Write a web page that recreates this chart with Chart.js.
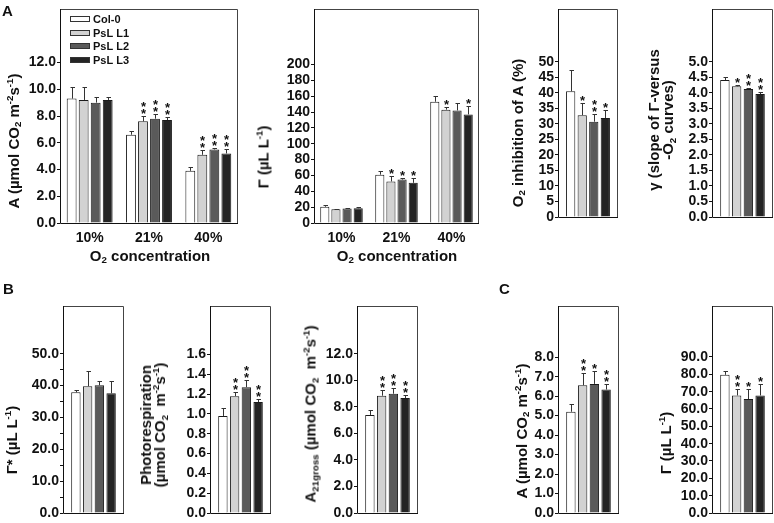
<!DOCTYPE html>
<html>
<head>
<meta charset="utf-8">
<script src="https://cdn.jsdelivr.net/npm/chart.js@4.4.0/dist/chart.umd.min.js"></script>
<style>
  html, body { margin: 0; padding: 0; background: #fff; }
  #fig { position: relative; width: 774px; height: 523px; overflow: hidden;
         font-family: "Liberation Sans", Arial, sans-serif; font-weight: bold; color: #111; }
  #fig canvas { position: absolute; }
  .lbl { position: absolute; white-space: nowrap; font-size: 15px; line-height: 15px; text-align: center; }
  .rot { transform: translate(-50%, -50%) rotate(-90deg); }
  .hz { transform: translate(-50%, -50%); }
  .let { position: absolute; font-size: 15px; line-height: 15px; }
  sub, sup { font-size: 0.65em; line-height: 0; }
  sub { vertical-align: -0.3em; }
  sup { vertical-align: 0.6em; }
</style>
</head>
<body>
<div id="fig"></div>
<script>
const lines = ["Col-0", "PsL L1", "PsL L2", "PsL L3"];
const o2Levels = ["10%", "21%", "40%"];
const fills = ["#ffffff", "#d2d2d2", "#5a5a5a", "#242424"];

// A at 10/21/40 % O2 (one row per line)
const aO2 = [[9.3, 6.6, 3.9], [9.2, 7.6, 5.1], [9.0, 7.8, 5.5], [9.2, 7.7, 5.2]];
const aO2Err = [[0.9, 0.27, 0.3], [0.95, 0.4, 0.35], [0.45, 0.35, 0.1], [0.25, 0.22, 0.3]];
const aO2Sig = [["", "", ""], ["", "**", "**"], ["", "**", "**"], ["", "**", "**"]];

// Γ at 10/21/40 % O2
const gO2 = [[20.5, 61, 153], [17.2, 52.4, 143], [18.4, 54.8, 142], [18.6, 50.7, 137]];
const gO2Err = [[2, 5, 7], [1, 7.5, 3.7], [1, 2.5, 9], [2, 6.6, 10]];
const gO2Sig = [["", "", ""], ["", "*", "*"], ["", "*", ""], ["", "*", "*"]];

// single value panels (Col-0, L1, L2, L3)
const o2Inh = [40.5, 32.8, 30.7, 31.9];
const o2InhErr = [6.8, 3.9, 2.4, 2.7];
const o2InhSig = ["", "*", "**", "*"];

const slope = [4.41, 4.21, 4.12, 3.96];
const slopeErr = [0.09, 0.05, 0.05, 0.08];
const slopeSig = ["", "*", "**", "**"];

const gStar = [37.9, 39.8, 40.1, 37.6];
const gStarErr = [0.6, 4.9, 1.5, 4.0];
const gStarSig = ["", "", "", ""];

const photoResp = [0.98, 1.18, 1.27, 1.12];
const photoRespErr = [0.08, 0.04, 0.07, 0.035];
const photoRespSig = ["", "**", "**", "**"];

const aGross = [7.4, 8.85, 9.0, 8.68];
const aGrossErr = [0.37, 0.4, 0.43, 0.22];
const aGrossSig = ["", "**", "**", "**"];

const aC = [5.2, 6.56, 6.63, 6.34];
const aCErr = [0.42, 0.63, 0.66, 0.29];
const aCSig = ["", "**", "*", "**"];

const gC = [79.7, 67.8, 65.7, 67.8];
const gCErr = [2.2, 3.9, 6.0, 6.6];
const gCSig = ["", "**", "*", "*"];

const FONT = "Liberation Sans, Arial, sans-serif";
const one = a => a.map(v => [v]);

// box = plot area [left, top, right, bottom] in page px
const panels = [
  { box: [60, 5, 238, 223], cats: o2Levels, vals: aO2, errs: aO2Err, sig: aO2Sig, max: 16, top: 12, step: 2, dec: 1, legend: true },
  { box: [314, 5, 479, 223], cats: o2Levels, vals: gO2, errs: gO2Err, sig: gO2Sig, max: 270, top: 200, step: 20, dec: 0 },
  { box: [558, 5, 618, 223], cats: [""], vals: one(o2Inh), errs: one(o2InhErr), sig: one(o2InhSig), max: 67, top: 50, step: 5, dec: 0 },
  { box: [712, 5, 773, 223], cats: [""], vals: one(slope), errs: one(slopeErr), sig: one(slopeSig), max: 6.7, top: 5, step: 0.5, dec: 1 },
  { box: [63, 302, 124, 519], cats: [""], vals: one(gStar), errs: one(gStarErr), sig: one(gStarSig), max: 65, top: 50, step: 5, dec: 1, every: 10 },
  { box: [210, 302, 271, 519], cats: [""], vals: one(photoResp), errs: one(photoRespErr), sig: one(photoRespSig), max: 2.09, top: 1.6, step: 0.2, dec: 1 },
  { box: [357, 302, 418, 519], cats: [""], vals: one(aGross), errs: one(aGrossErr), sig: one(aGrossSig), max: 15.62, top: 12, step: 2, dec: 1 },
  { box: [558, 302, 619, 519], cats: [""], vals: one(aC), errs: one(aCErr), sig: one(aCSig), max: 10.63, top: 8, step: 1, dec: 1 },
  { box: [712, 302, 773, 519], cats: [""], vals: one(gC), errs: one(gCErr), sig: one(gCSig), max: 119.4, top: 90, step: 10, dec: 1 }
];

const titles = [
  { html: "A (µmol CO<sub>2</sub> m<sup>-2</sup>s<sup>-1</sup>)", x: 13, y: 141, rot: true },
  { html: "Γ (µL L<sup>-1</sup>)", x: 263, y: 157, rot: true },
  { html: "O<sub>2</sub> inhibition of A (%)", x: 517, y: 133, rot: true },
  { html: "γ (slope of Γ-versus<br>-O<sub>2</sub> curves)", x: 661, y: 120, rot: true, lh: 14 },
  { html: "O<sub>2</sub> concentration", x: 150, y: 255 },
  { html: "O<sub>2</sub> concentration", x: 397, y: 255 },
  { html: "Γ* (µL L<sup>-1</sup>)", x: 11, y: 440, rot: true },
  { html: "Photorespiration<br>(µmol CO<sub>2</sub>&nbsp; m<sup>-2</sup>s<sup>-1</sup>)", x: 153, y: 425, rot: true, lh: 14 },
  { html: "A<sub>21gross</sub> (µmol CO<sub>2</sub>&nbsp; m<sup>-2</sup>s<sup>-1</sup>)", x: 310, y: 414, rot: true },
  { html: "A (µmol CO<sub>2</sub> m<sup>-2</sup>s<sup>-1</sup>)", x: 521, y: 431, rot: true },
  { html: "Γ (µL L<sup>-1</sup>)", x: 665, y: 443, rot: true }
];
const letters = [["A", 2, 3], ["B", 3, 281], ["C", 499, 281]];

const fig = document.getElementById("fig");

// frame round the plot area
const framePlugin = {
  id: "frame",
  afterDraw(chart) {
    const { ctx, chartArea: a } = chart;
    ctx.save();
    ctx.lineWidth = 1;
    ctx.strokeStyle = "#444";
    ctx.beginPath();
    ctx.moveTo(a.left, a.top + 0.5);
    ctx.lineTo(a.right - 0.5, a.top + 0.5);
    ctx.lineTo(a.right - 0.5, a.bottom);
    ctx.stroke();
    ctx.strokeStyle = "#111";
    ctx.beginPath();
    ctx.moveTo(a.left + 0.5, a.top);
    ctx.lineTo(a.left + 0.5, a.bottom + 0.5);
    ctx.lineTo(a.right, a.bottom + 0.5);
    ctx.stroke();
    ctx.restore();
  }
};

// error bars + significance stars
const errorPlugin = {
  id: "errBars",
  afterDatasetsDraw(chart) {
    const { ctx } = chart;
    const y = chart.scales.y;
    ctx.save();
    ctx.lineWidth = 1;
    ctx.strokeStyle = "#333";
    ctx.fillStyle = "#111";
    ctx.font = "bold 13px " + FONT;
    ctx.textAlign = "center";
    ctx.textBaseline = "alphabetic";
    const desc = ctx.measureText("*").actualBoundingBoxDescent;
    chart.data.datasets.forEach((ds, i) => {
      chart.getDatasetMeta(i).data.forEach((bar, j) => {
        const xm = Math.round(bar.x) + 0.5;
        const t = Math.round(y.getPixelForValue(ds.data[j] + ds.errors[j])) + 0.5;
        ctx.beginPath();
        ctx.moveTo(xm, bar.y);
        ctx.lineTo(xm, t);
        ctx.moveTo(xm - 2, t);
        ctx.lineTo(xm + 2.5, t);
        ctx.stroke();
        const s = ds.sig[j] || "";
        for (let k = 0; k < s.length; k++) {
          const bottom = t - 3 - k * 7;
          ctx.fillText("*", xm, bottom - desc);
        }
      });
    });
    ctx.restore();
  }
};

// small legend drawn inside the plot area
const legendPlugin = {
  id: "boxLegend",
  afterDraw(chart, args, opts) {
    if (!opts.show) return;
    const { ctx, chartArea: a } = chart;
    ctx.save();
    ctx.font = "bold 11px " + FONT;
    ctx.textBaseline = "middle";
    ctx.textAlign = "left";
    chart.data.datasets.forEach((ds, i) => {
      const yc = Math.round(a.top + 10 + i * 13.5);
      ctx.fillStyle = ds.backgroundColor;
      ctx.fillRect(a.left + 10, yc - 3, 20, 6);
      ctx.strokeStyle = "#333";
      ctx.strokeRect(a.left + 10.5, yc - 2.5, 19, 5);
      ctx.fillStyle = "#111";
      ctx.fillText(ds.label, a.left + 33, yc + 0.5);
    });
    ctx.restore();
  }
};

function makePanel(p) {
  const [x0, y0, x1, y1] = p.box;
  const yW = 50, padT = 4, padR = 2;
  const multi = p.cats.length > 1;
  const xH = multi ? 30 : 0;
  const padB = multi ? 0 : 2;
  const w = yW + (x1 - x0) + padR;
  const h = padT + (y1 - y0) + xH + padB;
  const cv = document.createElement("canvas");
  cv.width = w; cv.height = h;
  cv.style.width = w + "px"; cv.style.height = h + "px";
  cv.style.left = (x0 - yW) + "px";
  cv.style.top = (y0 - padT) + "px";
  fig.appendChild(cv);

  new Chart(cv, {
    type: "bar",
    data: {
      labels: p.cats,
      datasets: lines.map((name, i) => ({
        label: name,
        data: p.vals[i],
        errors: p.errs[i],
        sig: p.sig[i],
        backgroundColor: fills[i],
        borderColor: "#1a1a1a",
        borderWidth: 1,
        categoryPercentage: multi ? 0.81 : 0.77,
        barPercentage: multi ? 0.82 : 0.8
      }))
    },
    options: {
      responsive: false,
      animation: false,
      devicePixelRatio: 1,
      layout: { padding: { top: padT, right: padR, left: 0, bottom: padB } },
      plugins: {
        legend: { display: false },
        tooltip: { enabled: false },
        boxLegend: { show: !!p.legend }
      },
      scales: {
        x: {
          grid: { display: false, drawTicks: false },
          border: { display: false },
          ticks: { display: multi, color: "#111", padding: 7, font: { family: FONT, size: 14, weight: "bold" } },
          afterFit: s => { s.height = xH; }
        },
        y: {
          min: 0,
          max: p.max,
          afterBuildTicks: s => { s.ticks = s.ticks.filter(t => t.value <= p.top + 1e-6); },
          ticks: {
            stepSize: p.step,
            autoSkip: false,
            padding: 1,
            color: "#111",
            font: { family: FONT, size: 14, weight: "bold", lineHeight: 1 },
            callback: v => {
              if (p.every && Math.abs(v % p.every) > 1e-6) return "";
              return Number(v).toFixed(p.dec);
            }
          },
          grid: { drawOnChartArea: false, tickLength: 3, color: "#111" },
          border: { display: false },
          afterFit: s => { s.width = yW; }
        }
      }
    },
    plugins: [framePlugin, errorPlugin, legendPlugin]
  });
}

panels.forEach(makePanel);

titles.forEach(t => {
  const d = document.createElement("div");
  d.className = "lbl " + (t.rot ? "rot" : "hz");
  if (t.lh) d.style.lineHeight = t.lh + "px";
  d.style.left = t.x + "px";
  d.style.top = t.y + "px";
  d.innerHTML = t.html;
  fig.appendChild(d);
});

letters.forEach(([s, x, y]) => {
  const d = document.createElement("div");
  d.className = "let";
  d.style.left = x + "px";
  d.style.top = y + "px";
  d.textContent = s;
  fig.appendChild(d);
});
</script>
</body>
</html>
